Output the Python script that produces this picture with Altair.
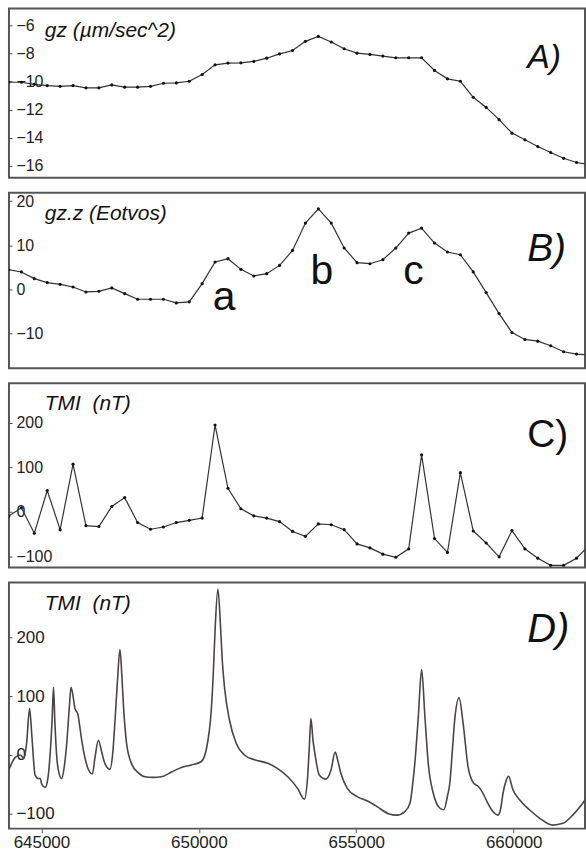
import altair as alt
import pandas as pd

FONT = "Liberation Sans"

# station eastings (A, B, C share the same stations)
stations = [643955, 644365, 644775, 645185, 645595, 646005, 646415, 646825, 647235, 647645,
            648055, 648465, 648875, 649285, 649695, 650105, 650515, 650925, 651335, 651745,
            652155, 652565, 652975, 653385, 653795, 654205, 654615, 655025, 655435, 655845,
            656255, 656665, 657075, 657485, 657895, 658305, 658715, 659125, 659535, 659945,
            660355, 660765, 661175, 661585, 661995, 662405]

gz = [-10.05, -10.05, -10.2, -10.29, -10.34, -10.29, -10.45, -10.45, -10.24, -10.4,
      -10.4, -10.34, -10.12, -10.1, -9.98, -9.5, -8.81, -8.69, -8.67, -8.57,
      -8.34, -8.03, -7.79, -7.14, -6.79, -7.19, -7.67, -7.98, -8.07, -8.19,
      -8.31, -8.31, -8.31, -9.21, -9.81, -9.98, -11.12, -11.84, -12.71, -13.67,
      -14.14, -14.62, -15.05, -15.46, -15.76, -15.9]

gzz = [4.46, 3.94, 2.42, 1.52, 1.13, 0.53, -0.6, -0.45, 0.31, -0.97,
       -2.26, -2.26, -2.26, -3.08, -2.85, 1.29, 6.2, 6.95, 4.53, 3.03,
       3.55, 5.43, 8.82, 15.02, 18.26, 15.02, 9.37, 6.04, 5.81, 6.72,
       9.37, 12.76, 13.89, 10.5, 8.46, 7.85, 3.94, -0.74, -5.5, -9.8,
       -11.38, -11.76, -12.8, -14.16, -14.7, -14.9]

tmi_c = [-10, 9, -48, 48, -40, 107, -31, -33, 12, 32,
         -24, -39, -34, -24, -19, -14, 195, 53, 7, -9,
         -14, -22, -44, -55, -27, -29, -40, -72, -81, -95,
         -102, -83, 128, -60, -91, 88, -43, -70, -101, -42,
         -83, -104, -120, -120, -104, -75]

d_east = [643960, 644170, 644330, 644445, 644530, 644625, 644700, 644800, 644910, 644960,
          645015, 645120, 645205, 645275, 645340, 645385, 645425, 645490, 645555, 645645,
          645725, 645805, 645885, 645940, 646005, 646070, 646155, 646215, 646280, 646385,
          646495, 646620, 646700, 646810, 646915, 647020, 647175, 647260, 647340, 647420,
          647495, 647560, 647610, 647705, 647865, 648075, 648285, 648550, 648810, 649130,
          649445, 649760, 650080, 650235, 650330, 650395, 650460, 650520, 650605, 650690,
          650745, 650815, 650975, 651185, 651450, 651765, 652190, 652505, 652825, 653140,
          653350, 653455, 653505, 653560, 653625, 653685, 653825, 654035, 654195, 654330,
          654415, 654510, 654720, 655040, 655355, 655670, 656040, 656280, 656545, 656705,
          656790, 656860, 656970, 657075, 657180, 657285, 657445, 657650, 657780, 657895,
          657970, 658055, 658125, 658265, 658395, 658550, 658730, 658870, 659025, 659160,
          659340, 659500, 659590, 659660, 659750, 659835, 659975, 660185, 660500, 660815,
          661240, 661560, 661875, 662190, 662295]

d_tmi = [-26, -4, 0, -6, 20, 79, 30, -34, -40, -40,
         -50, -55, -40, 0, 60, 115, 60, -5, -30, -40,
         -20, 20, 80, 115, 100, 78, 70, 50, 25, -5,
         -25, -32, -5, 25, 5, -15, -24, 0, 60, 130,
         179, 130, 80, 20, -15, -30, -37, -38, -37, -29,
         -21, -17, -11, 9, 40, 76, 140, 217, 282, 217,
         160, 115, 59, 20, 0, -8, -14, -23, -37, -57,
         -75, -37, 10, 62, 25, 3, -34, -41, -26, 5,
         -10, -31, -57, -71, -78, -88, -100, -102, -96, -82,
         -50, -14, 65, 145, 65, -14, -65, -90, -93, -70,
         -48, 10, 59, 97, 53, -20, -48, -53, -65, -80,
         -96, -102, -90, -65, -45, -36, -59, -76, -93, -107,
         -119, -116, -102, -82, -74]

ticks_a = [-16, -14, -12, -10, -8, -6]
ticks_b = [-10, 0, 10, 20]
ticks_c = [-100, 0, 100, 200]
ticks_d = [-100, 0, 100, 200]
x_ticks = [645000, 650000, 655000, 660000]

peak_labels = ["a", "b", "c"]
peak_x = [650806, 653908, 656820]
peak_y = [-4.8, 1.3, 1.3]

X_DOMAIN = [643970, 662264]
W = 578
LINE_COLOR = "#333333"
TMI_TITLE = "TMI\u00a0\u00a0(nT)"


def xenc(show_axis):
    if show_axis:
        ax = alt.Axis(values=x_ticks, format="d", tickSize=4, labelFontSize=17,
                      labelPadding=2, domain=False, grid=False, title=None,
                      labelFont=FONT, labelColor="#222", tickColor="#555",
                      labelFlush=False)
    else:
        ax = None
    return alt.X("x:Q", scale=alt.Scale(domain=X_DOMAIN, nice=False, zero=False), axis=ax)


def yenc(domain, ticks, fsize):
    return alt.Y("y:Q", scale=alt.Scale(domain=domain, nice=False, zero=False),
                 axis=alt.Axis(values=ticks, offset=-3, tickSize=3, domain=False, grid=False,
                               labelAlign="left", labelPadding=-7, labelBaseline="middle",
                               labelFontSize=fsize, labelFont=FONT, labelColor="#222",
                               tickColor="#444", title=None, labelFlush=False,
                               labelOverlap=False))


def label_layer(text, x, y, size, italic=True):
    return alt.Chart(pd.DataFrame({"t": [text]})).mark_text(
        align="left", baseline="alphabetic", font=FONT, fontSize=size,
        fontStyle="italic" if italic else "normal", color="#111"
    ).encode(x=alt.value(x), y=alt.value(y), text="t:N")


def station_panel(values, domain, ticks, height, title, title_y, letter, letter_size,
                  letter_y, letter_italic, extra=None):
    df = pd.DataFrame({"x": stations, "y": values})
    base = alt.Chart(df)
    line = base.mark_line(color=LINE_COLOR, strokeWidth=1.2, clip=True).encode(
        x=xenc(False), y=yenc(domain, ticks, 16))
    pts = base.mark_point(filled=True, size=10, color="#111", opacity=1, clip=True).encode(
        x=xenc(False), y=yenc(domain, ticks, 16))
    layers = [line, pts,
              label_layer(title, 36, title_y, 21),
              label_layer(letter, 520, letter_y, letter_size, letter_italic)]
    if extra is not None:
        layers.append(extra)
    return alt.layer(*layers).properties(width=W, height=height)


panel_a = station_panel(gz, [-16.85, -4.8], ticks_a, 170, "gz (µm/sec^2)", 29,
                        "A)", 34, 60, True)

abc = alt.Chart(pd.DataFrame({"x": peak_x, "y": peak_y, "t": peak_labels})).mark_text(
    align="center", baseline="alphabetic", font=FONT, fontSize=41, color="#111"
).encode(x=xenc(False), y=yenc([-17.9, 21.9], ticks_b, 16), text="t:N")

panel_b = station_panel(gzz, [-17.9, 21.9], ticks_b, 176, "gz.z (Eotvos)", 27,
                        "B)", 39, 68, True, extra=abc)

panel_c = station_panel(tmi_c, [-125, 289], ticks_c, 185, TMI_TITLE, 27,
                        "C)", 39, 64, False)

df_d = pd.DataFrame({"x": d_east, "y": d_tmi})
line_d = alt.Chart(df_d).mark_line(color="#4a4444", strokeWidth=1.6, clip=True,
                                   interpolate="monotone").encode(
    x=xenc(True), y=yenc([-125, 293], ticks_d, 17))
panel_d = alt.layer(line_d,
                    label_layer(TMI_TITLE, 36, 28, 21),
                    label_layer("D)", 520, 60, 40, True)).properties(width=W, height=247)

chart = alt.vconcat(panel_a, panel_b, panel_c, panel_d, spacing=13).properties(
    padding={"left": 7, "top": 6, "right": 0, "bottom": 0},
    background="white"
).configure_view(stroke="#555555", strokeWidth=2)

chart.save("out.html", embed_options={"renderer": "svg", "actions": False})
